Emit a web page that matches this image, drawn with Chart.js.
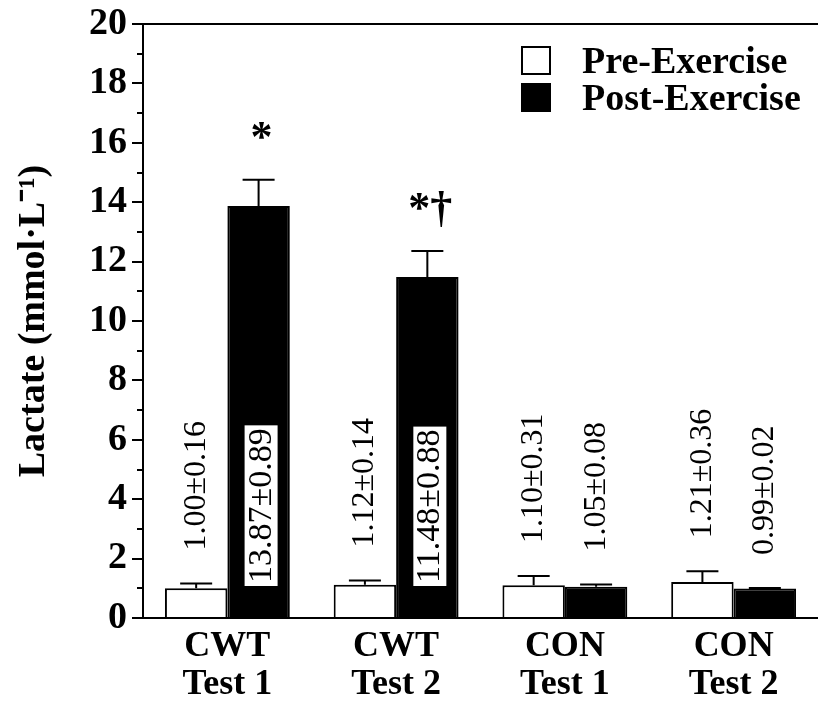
<!DOCTYPE html>
<html><head><meta charset="utf-8">
<script src="https://cdn.jsdelivr.net/npm/chart.js@4.4.0/dist/chart.umd.min.js"></script>
<style>html,body{margin:0;padding:0;background:#fff;overflow:hidden}</style>
</head><body>
<div style="width:818px;height:702px;position:relative"><canvas id="c"></canvas></div>
<script>
// ---- data ----
const categories = [["CWT", "Test 1"], ["CWT", "Test 2"], ["CON", "Test 1"], ["CON", "Test 2"]];
const seriesNames = ["Pre-Exercise", "Post-Exercise"];
const preValues = [1.00, 1.12, 1.10, 1.21];
const preSD = [0.16, 0.14, 0.31, 0.36];
const postValues = [13.87, 11.48, 1.05, 0.99];
const postSD = [0.89, 0.88, 0.08, 0.02];
const sigMarks = ["*", "*†", "", ""];
const yTickValues = [0, 2, 4, 6, 8, 10, 12, 14, 16, 18, 20];
const yTitle = "Lactate (mmol·L⁻¹)";

const F = '"Liberation Serif", "Times New Roman", serif';

const annot = {
  id: 'annot',
  afterDatasetsDraw(chart) {
    const ctx = chart.ctx, ys = chart.scales.y, area = chart.chartArea;
    ctx.save();
    ctx.strokeStyle = '#000';
    ctx.lineWidth = 2;
    // minor ticks
    for (let v = yTickValues[0] + 1; v < yTickValues[yTickValues.length - 1]; v += 2) {
      const py = Math.round(ys.getPixelForValue(v));
      ctx.beginPath(); ctx.moveTo(area.left - 6, py); ctx.lineTo(area.left, py); ctx.stroke();
    }
    const sets = [[preValues, preSD], [postValues, postSD]];
    const base = ys.getPixelForValue(0);
    sets.forEach(([vals, sds], di) => {
      const meta = chart.getDatasetMeta(di);
      meta.data.forEach((bar, i) => {
        const x = bar.x;
        const top = ys.getPixelForValue(vals[i]);
        const et = ys.getPixelForValue(vals[i] + sds[i]);
        ctx.strokeStyle = '#000';
        ctx.lineWidth = 2;
        ctx.beginPath();
        ctx.moveTo(x, top); ctx.lineTo(x, et);
        ctx.moveTo(x - 16, et); ctx.lineTo(x + 16, et);
        ctx.stroke();
        const txt = vals[i].toFixed(2) + '±' + sds[i].toFixed(2);
        ctx.font = '32px ' + F;
        let w = ctx.measureText(txt).width;
        if (base - top > w + 120) {
          ctx.font = '34px ' + F;
          w = ctx.measureText(txt).width;
          const bb = base - 32;
          ctx.fillStyle = '#fff';
          ctx.fillRect(x - 14, bb - w - 6, 33, w + 6);
          ctx.save();
          ctx.translate(x + 3, bb - 3);
          ctx.rotate(-Math.PI / 2);
          ctx.fillStyle = '#000';
          ctx.textAlign = 'left';
          ctx.textBaseline = 'middle';
          ctx.fillText(txt, 0, 0);
          ctx.restore();
        } else {
          ctx.save();
          ctx.translate(x, et - 33);
          ctx.rotate(-Math.PI / 2);
          ctx.fillStyle = '#000';
          ctx.textAlign = 'left';
          ctx.textBaseline = 'middle';
          ctx.fillText(txt, 0, 0);
          ctx.restore();
        }
        if (di === 1 && sigMarks[i]) {
          ctx.font = 'bold 44px ' + F;
          ctx.fillStyle = '#000';
          ctx.textAlign = 'center';
          ctx.textBaseline = 'alphabetic';
          ctx.fillText(sigMarks[i], x + 3, et - 29);
        }
      });
    });
    // legend
    const lx = 522, ly = [47, 84];
    chart.data.datasets.forEach((ds, di) => {
      ctx.fillStyle = ds.backgroundColor;
      ctx.fillRect(lx, ly[di], 28, 27);
      ctx.strokeStyle = '#000';
      ctx.lineWidth = 2;
      ctx.strokeRect(lx, ly[di], 28, 27);
      ctx.fillStyle = '#000';
      ctx.font = 'bold 38px ' + F;
      ctx.textAlign = 'left';
      ctx.textBaseline = 'middle';
      ctx.fillText(ds.label, 582, ly[di] + 16);
    });
    ctx.restore();
  }
};

new Chart(document.getElementById('c'), {
  type: 'bar',
  data: {
    labels: categories,
    datasets: [
      { label: seriesNames[0], data: preValues, backgroundColor: '#ffffff', borderColor: '#000', borderWidth: 2 },
      { label: seriesNames[1], data: postValues, backgroundColor: '#000000', borderColor: '#000', borderWidth: 2 }
    ]
  },
  options: {
    responsive: true,
    maintainAspectRatio: false,
    animation: false,
    events: [],
    layout: { padding: { top: 20, right: 0, bottom: 0, left: 0 } },
    datasets: { bar: { categoryPercentage: 0.74, barPercentage: 1.0 } },
    plugins: { legend: { display: false }, tooltip: { enabled: false } },
    scales: {
      x: {
        type: 'category',
        offset: true,
        grid: { display: false, drawTicks: false },
        border: { display: true, color: '#000', width: 2 },
        ticks: { color: '#000', font: { family: F, size: 36, weight: 'bold', lineHeight: 1.05 }, padding: 10, maxRotation: 0, autoSkip: false },
        afterFit(s) { s.height = 84; }
      },
      xTop: {
        type: 'category',
        position: 'top',
        grid: { display: false, drawTicks: false },
        ticks: { display: false },
        border: { display: true, color: '#000', width: 2 },
        afterFit(s) { s.height = 0; }
      },
      y: {
        min: yTickValues[0],
        max: yTickValues[yTickValues.length - 1],
        afterBuildTicks(s) { s.ticks = yTickValues.map(v => ({ value: v })); },
        grid: { drawOnChartArea: false, drawTicks: true, tickLength: 11, color: '#000', lineWidth: 2 },
        border: { display: true, color: '#000', width: 2 },
        ticks: { color: '#000', padding: 5, font: { family: F, size: 38, weight: 'bold', lineHeight: 1.0 } },
        title: { display: true, text: yTitle, color: '#000', font: { family: F, size: 38, weight: 'bold' }, padding: { top: 11, bottom: 0 } },
        afterFit(s) { s.width = 143; }
      }
    }
  },
  plugins: [annot]
});
</script>
</body></html>
